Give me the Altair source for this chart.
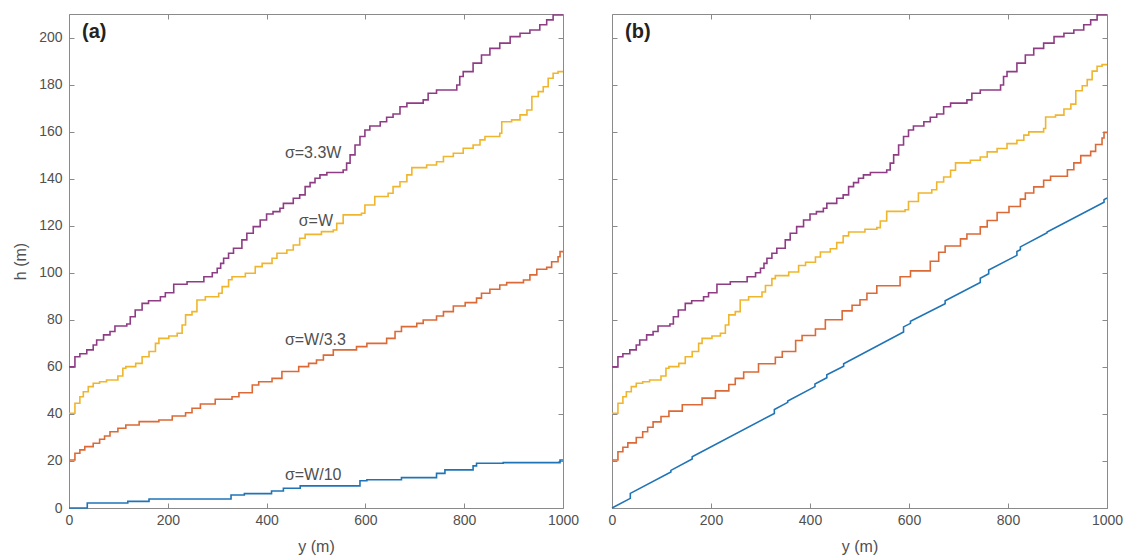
import altair as alt
import pandas as pd

# ---------------- data ----------------
x_ticks = [0, 200, 400, 600, 800, 1000]
y_ticks = [0, 20, 40, 60, 80, 100, 120, 140, 160, 180, 200]

series_names = ["σ=W/10", "σ=W/3.3", "σ=W", "σ=3.3W"]
series_colors = ["#1f74b6", "#dc6a36", "#efb62d", "#8e3d85"]

# panel (a): staircase curves (step positions y and levels h)
a_purple_y = [0, 12, 22, 36, 49, 56, 70, 83, 93, 117, 124, 134, 148, 161, 185, 195, 212, 239, 273, 290,
              300, 307, 313, 323, 333, 350, 360, 373, 387, 400, 413, 427, 434, 454, 467, 478, 488, 498, 508, 522,
              555, 562, 569, 579, 589, 599, 609, 630, 643, 656, 670, 684, 717, 727, 744, 785, 791, 798, 818, 835,
              852, 872, 893, 913, 933, 953, 967, 980, 1000]
a_purple_h = [60, 64.3, 65.6, 67.2, 69.3, 71.4, 73.6, 75, 77.4, 78.2, 81.3, 84.2, 87, 88.1, 89.8, 91.5, 95.1, 96.2, 98.3, 100,
              101.9, 104, 106.2, 108.3, 110.4, 114, 116.8, 119.6, 122.4, 125, 126, 127.4, 129.5, 131.7, 133.1, 136.6, 138.3, 140.2, 141.6, 142.6,
              143.7, 146.6, 150.1, 154.3, 157.9, 160.7, 162.4, 164.2, 166.1, 167.5, 170.6, 172.1, 173.5, 176.3, 177.7, 179.8, 183.4, 185.5, 189.1, 192.6,
              195.4, 197.6, 200.4, 201.8, 203.2, 205.4, 207.5, 209.6, 209.6]

a_yellow_y = [0, 12, 22, 29, 39, 49, 62, 76, 99, 109, 115, 135, 148, 162, 175, 182, 202, 219, 229, 236,
              249, 259, 276, 303, 310, 323, 330, 357, 377, 391, 411, 421, 441, 454, 467, 478, 511, 535, 542, 555,
              592, 599, 619, 646, 656, 670, 684, 694, 724, 744, 758, 778, 798, 818, 832, 842, 872, 876, 896, 913,
              927, 937, 950, 960, 970, 980, 990, 1000]
a_yellow_h = [40.3, 44.5, 47.3, 49.4, 51.6, 53.0, 53.7, 54.4, 56.1, 59.4, 60.1, 61.5, 64.3, 66.5, 70.0, 72.1, 73.1, 74.3, 77.8, 82.1,
              83.5, 88.4, 89.8, 91.3, 94.1, 97.0, 98.3, 99.8, 102.6, 104.0, 106.2, 108.3, 109.7, 111.8, 114.7, 116.3, 117.5, 118.2, 121.0, 124.6,
              125.3, 128.8, 132.4, 133.8, 136.6, 138.7, 141.6, 144.7, 145.8, 147.2, 149.4, 150.8, 152.9, 154.3, 156.5, 157.9, 159.3, 164.2, 165.0, 167.1,
              169.2, 174.9, 177.0, 179.1, 182.7, 184.8, 185.5, 185.5]

a_orange_y = [0, 12, 22, 32, 49, 62, 72, 83, 99, 115, 142, 182, 209, 236, 249, 266, 296, 330, 344, 371,
              384, 411, 431, 465, 485, 501, 515, 535, 582, 603, 643, 660, 673, 704, 717, 744, 758, 778, 802, 825,
              835, 852, 872, 886, 920, 933, 947, 967, 977, 990, 994, 1000]
a_orange_h = [20.4, 23.3, 24.7, 26.1, 27.5, 29.2, 30.6, 32.4, 33.9, 35.3, 36.7, 37.4, 39.1, 40.5, 42.4, 44.2, 46.2, 47.3, 49.0, 52.3,
              53.7, 55.1, 58.0, 60.1, 61.5, 62.9, 65.0, 67.2, 68.6, 70.0, 72.1, 75.0, 77.1, 78.5, 79.9, 81.6, 83.5, 85.9, 87.3, 89.2,
              91.3, 93.0, 94.8, 95.8, 96.9, 99.1, 101.5, 102.3, 104.7, 106.8, 109.0, 109.0]

a_blue_y = [0, 37, 119, 162, 328, 355, 410, 434, 468, 589, 603, 673, 744, 761, 818, 825, 879, 994, 1000]
a_blue_h = [0, 2.1, 2.8, 3.8, 5.5, 6.1, 7.2, 8.4, 9.4, 11.6, 12.0, 12.9, 14.7, 16.2, 17.9, 19.0, 19.3, 20.4, 20.4]

# panel (b)
b_purple_y = a_purple_y
b_purple_h = a_purple_h

b_yellow_y = a_yellow_y
b_yellow_h = [40.3, 44.5, 47.3, 49.4, 51.6, 53.0, 53.7, 54.4, 56.1, 59.4, 60.1, 61.5, 64.3, 66.5, 70.0, 72.1, 73.1, 74.3, 77.8, 82.1,
              83.5, 88.4, 89.8, 91.8, 94.6, 97.5, 98.8, 100.3, 103.1, 104.5, 106.7, 108.8, 110.2, 112.8, 115.7, 117.3, 118.5, 119.2, 122.0, 126.1,
              126.8, 130.3, 133.9, 135.3, 138.6, 140.7, 143.6, 146.7, 147.8, 149.2, 151.4, 152.8, 154.9, 156.3, 158.5, 159.9, 161.3, 166.2, 167.0, 169.6,
              171.7, 177.4, 179.5, 182.1, 185.7, 187.8, 188.5, 188.5]

b_orange_y = a_orange_y
b_orange_h = [20.4, 23.9, 25.8, 27.7, 30.0, 32.4, 34.3, 36.6, 38.9, 41.2, 43.9, 46.7, 49.8, 52.5, 55.1, 57.8, 61.3, 64.1, 66.5, 71.2,
              73.3, 76.1, 80.0, 83.8, 86.2, 88.5, 91.3, 94.5, 98.3, 100.8, 104.9, 108.7, 111.4, 114.4, 116.5, 119.5, 122.2, 125.6, 128.2, 131.3,
              133.9, 136.5, 139.3, 141.0, 143.8, 146.7, 149.8, 151.6, 154.5, 157.3, 159.7, 160.0]

# blue (b): sloped segments with small jumps (vertices)
b_blue_y = [0, 37, 37, 119, 119, 162, 162, 328, 328, 355, 355, 410, 410, 434, 434, 468, 468, 589, 589, 603, 603,
            673, 673, 744, 744, 761, 761, 818, 818, 825, 825, 879, 879, 994, 994, 1000]
b_blue_h = [0, 4.1, 6.2, 15.3, 16.0, 20.8, 21.8, 40.2, 41.9, 44.9, 45.5, 51.6, 52.7, 55.4, 56.6, 60.3, 61.3, 74.8, 77.0, 78.5, 79.4,
            86.8, 88.1, 95.9, 97.7, 99.6, 101.2, 107.4, 109.0, 109.8, 111.0, 117.0, 117.3, 130.0, 131.1, 131.8]

label_texts = ["σ=3.3W", "σ=W", "σ=W/3.3", "σ=W/10"]
label_y = [437, 465, 437, 437]
label_h = [151, 122, 71.4, 14]

# ---------------- chart ----------------
FONT = "Liberation Sans"
TXT = "#505050"
FRAME = "#8a8a8a"


def frame(x, h, name):
    return pd.DataFrame({"y": x, "h": h, "series": name, "i": range(len(x))})


color = alt.Color("series:N", scale=alt.Scale(domain=series_names, range=series_colors), legend=None)
xs = alt.Scale(domain=[0, 1000], nice=False, zero=False)
ys = alt.Scale(domain=[0, 210], nice=False, zero=False)

tick_common = dict(offset=-5, tickSize=5, domain=False, grid=False, tickColor=FRAME, tickWidth=1, labelFlush=False)
hidden_ext = dict(minExtent=0, maxExtent=0)


def panel(step_df, lin_df, tag, show_y, width, labels=None):
    x_axis = alt.Axis(values=x_ticks, format="d", title="y (m)", orient="bottom", labelPadding=5, titlePadding=11,
                      labelFontSize=14, titleFontSize=16, labelColor=TXT, titleColor=TXT, **tick_common)
    y_kw = dict(values=y_ticks, format="d", orient="left", labels=show_y, **tick_common)
    if show_y:
        y_kw.update(title="h (m)", labelPadding=7, titlePadding=10, labelFontSize=14, titleFontSize=16,
                    labelColor=TXT, titleColor=TXT)
    else:
        y_kw.update(title="", **hidden_ext)
    y_axis = alt.Axis(**y_kw)

    layers = []
    layers.append(
        alt.Chart(step_df).mark_line(interpolate="step-after", strokeWidth=1.6).encode(
            x=alt.X("y:Q", scale=xs, axis=x_axis),
            y=alt.Y("h:Q", scale=ys, axis=y_axis),
            color=color,
            order="i:Q",
        )
    )
    if lin_df is not None:
        layers.append(
            alt.Chart(lin_df).mark_line(strokeWidth=1.6).encode(
                x=alt.X("y:Q", scale=xs, axis=None),
                y=alt.Y("h:Q", scale=ys, axis=None),
                color=color,
                order="i:Q",
            )
        )
    # mirrored ticks on top and right
    layers.append(
        alt.Chart(step_df.head(1)).mark_point(opacity=0).encode(
            x=alt.X("y:Q", scale=xs, axis=alt.Axis(values=x_ticks, orient="top", labels=False, title="",
                                                    **tick_common, **hidden_ext)),
            y=alt.Y("h:Q", scale=ys, axis=alt.Axis(values=y_ticks, orient="right", labels=False, title="",
                                                    **tick_common, **hidden_ext)),
        )
    )
    if labels is not None:
        layers.append(
            alt.Chart(labels).mark_text(align="left", baseline="middle", fontSize=16, font=FONT, color=TXT).encode(
                x=alt.X("y:Q", scale=xs, axis=None),
                y=alt.Y("h:Q", scale=ys, axis=None),
                text="label:N",
            )
        )
    layers.append(
        alt.Chart(pd.DataFrame({"t": [tag]})).mark_text(
            align="left", baseline="middle", fontSize=20, fontWeight="bold", font=FONT, color="#222222"
        ).encode(x=alt.value(13), y=alt.value(18), text="t:N")
    )
    return alt.layer(*layers).resolve_axis(x="independent", y="independent").properties(width=width, height=494)


a_steps = pd.concat([
    frame(a_blue_y, a_blue_h, series_names[0]),
    frame(a_orange_y, a_orange_h, series_names[1]),
    frame(a_yellow_y, a_yellow_h, series_names[2]),
    frame(a_purple_y, a_purple_h, series_names[3]),
], ignore_index=True)

b_steps = pd.concat([
    frame(b_orange_y, b_orange_h, series_names[1]),
    frame(b_yellow_y, b_yellow_h, series_names[2]),
    frame(b_purple_y, b_purple_h, series_names[3]),
], ignore_index=True)
b_lin = frame(b_blue_y, b_blue_h, series_names[0])

labels_df = pd.DataFrame({"y": label_y, "h": label_h, "label": label_texts})

chart = alt.hconcat(
    panel(a_steps, None, "(a)", True, 494, labels_df),
    panel(b_steps, b_lin, "(b)", False, 495),
    spacing=27,
).configure_view(stroke=FRAME, strokeWidth=1).configure_axis(
    labelFont=FONT, titleFont=FONT, titleFontWeight="normal"
).properties(
    padding={"left": 12, "top": 11, "right": 0, "bottom": 0},
    background="white",
)

chart.save("out.html", embed_options={"renderer": "svg", "actions": False})
